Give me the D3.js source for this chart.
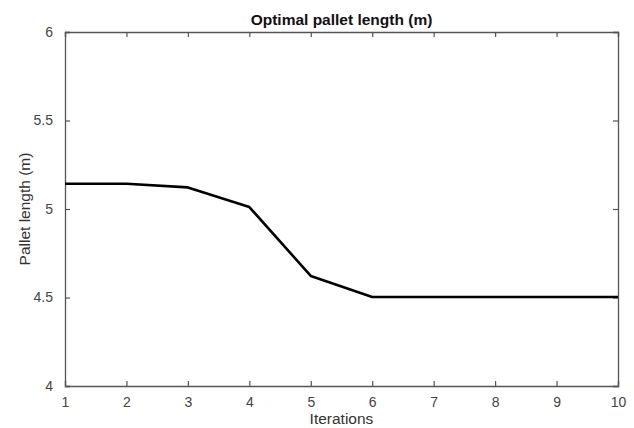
<!DOCTYPE html>
<html>
<head>
<meta charset="utf-8">
<script src="https://cdn.jsdelivr.net/npm/d3@7"></script>
<style>
  body { margin: 0; background: #fff; }
  text { font-family: "Liberation Sans", Arial, sans-serif; }
</style>
</head>
<body>
<div id="chart-area"></div>
<script>
// data
const iterations = [1, 2, 3, 4, 5, 6, 7, 8, 9, 10];
const palletLength = [5.143, 5.143, 5.122, 5.011, 4.622, 4.503, 4.503, 4.503, 4.503, 4.503];
const xTicks = [1, 2, 3, 4, 5, 6, 7, 8, 9, 10];
const yTicks = [4, 4.5, 5, 5.5, 6];

const MARGIN = { LEFT: 65, RIGHT: 16, TOP: 32, BOTTOM: 42 };
const WIDTH = 634 - MARGIN.LEFT - MARGIN.RIGHT;
const HEIGHT = 428 - MARGIN.TOP - MARGIN.BOTTOM;

const svg = d3.select("#chart-area").append("svg")
    .attr("width", 634)
    .attr("height", 428);

const g = svg.append("g")
    .attr("transform", `translate(${MARGIN.LEFT}, ${MARGIN.TOP})`);

const x = d3.scaleLinear().domain([1, 10]).range([0, WIDTH]);
const y = d3.scaleLinear().domain([4, 6]).range([HEIGHT, 0]);

const axisColor = "#555";

// axes (ticks pointing inward, box on)
const xAxis = g.append("g")
    .attr("transform", `translate(0, ${HEIGHT})`)
    .call(d3.axisBottom(x).tickValues(xTicks).tickSize(-5).tickPadding(11).tickFormat(d3.format("d")));
const xTop = g.append("g")
    .call(d3.axisTop(x).tickValues(xTicks).tickSize(-5).tickFormat(""));
const yAxis = g.append("g")
    .call(d3.axisLeft(y).tickValues(yTicks).tickSize(-5).tickPadding(12).tickFormat(d3.format("")));
const yRight = g.append("g")
    .attr("transform", `translate(${WIDTH}, 0)`)
    .call(d3.axisRight(y).tickValues(yTicks).tickSize(-5).tickFormat(""));

[xAxis, xTop, yAxis, yRight].forEach(a => {
    a.select(".domain").attr("stroke", axisColor).attr("stroke-width", 1.3);
    a.selectAll(".tick line").attr("stroke", axisColor).attr("stroke-width", 1.2);
    a.selectAll(".tick text")
        .attr("fill", "#444")
        .attr("font-size", "14px")
        .attr("font-family", "Liberation Sans, Arial, sans-serif");
});

// line
const line = d3.line()
    .x((d, i) => x(iterations[i]))
    .y(d => y(d));

g.append("path")
    .datum(palletLength)
    .attr("fill", "none")
    .attr("stroke", "#000")
    .attr("stroke-width", 2.6)
    .attr("stroke-linejoin", "round")
    .attr("d", line);

// title
svg.append("text")
    .attr("x", MARGIN.LEFT + WIDTH / 2)
    .attr("y", 25)
    .attr("text-anchor", "middle")
    .attr("font-size", "15.5px")
    .attr("font-weight", "700")
    .attr("fill", "#111")
    .text("Optimal pallet length (m)");

// x label
svg.append("text")
    .attr("x", MARGIN.LEFT + WIDTH / 2)
    .attr("y", 424)
    .attr("text-anchor", "middle")
    .attr("font-size", "15.5px")
    .attr("fill", "#333")
    .text("Iterations");

// y label
svg.append("text")
    .attr("transform", `translate(30, ${MARGIN.TOP + HEIGHT / 2}) rotate(-90)`)
    .attr("text-anchor", "middle")
    .attr("font-size", "15.5px")
    .attr("fill", "#333")
    .text("Pallet length (m)");
</script>
</body>
</html>
